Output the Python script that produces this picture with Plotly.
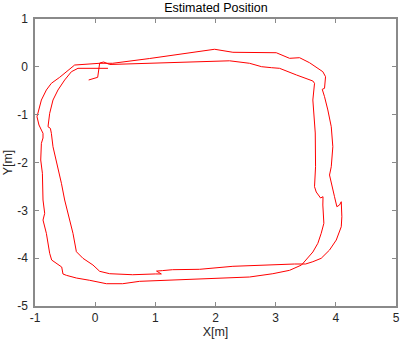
import plotly.graph_objects as go

# Estimated trajectory (two laps), data coordinates in metres
pos_x = [-0.108, 0.042, 0.075, 0.141, 0.241, 0.905, 1.786, 2.234, 2.566, 2.766, 2.932, 3.065, 3.347, 3.618, 3.646,
         3.618, 3.658, 3.663, 3.646, 3.674, 3.746, 3.787, 3.784, 3.801, 3.757, 3.701, 3.618, 3.508, 3.430,
         3.231, 2.953, 2.566, 2.179, 1.736, 1.183, 0.739, 0.457, 0.186, -0.091, -0.312, -0.478,
         -0.535, -0.556, -0.640, -0.723, -0.756, -0.784, -0.811, -0.867, -0.839, -0.867,
         -0.867, -0.877, -0.905, -0.894, -0.867, -0.867, -0.894, -0.934, -0.967, -0.950, -0.894, -0.811, -0.728,
         -0.590, -0.452, -0.341, 0.075, 0.291,
         0.905, 1.736, 1.985, 2.289, 3.010, 3.231, 3.397, 3.563, 3.784, 3.829, 3.812, 3.774, 3.812, 3.867,
         3.924, 3.950, 3.924, 3.895, 3.945, 3.978, 4.017, 4.061, 4.090, 4.100, 4.090, 4.007, 3.895, 3.757,
         3.618, 3.497, 3.314, 2.844, 2.289, 1.736, 1.287, 1.12, 1.02, 1.10, 1.00, 0.623, 0.407, 0.241, 0.075,
         -0.037, -0.203, -0.312, -0.369, -0.452, -0.507, -0.561, -0.645, -0.701, -0.728, -0.744, -0.784,
         -0.756, -0.701, -0.618, -0.507, -0.395, -0.286, 0.213]
pos_y = [-0.275, -0.219, 0.080, 0.101, 0.049, 0.070, 0.107, 0.126, 0.074, 0.003, -0.018, -0.031, -0.171, -0.296, -0.344,
         -0.694, -1.383, -2.088, -2.506, -2.617, -2.742, -2.715, -2.889, -3.271, -3.480, -3.690, -3.871, -4.039, -4.143,
         -4.254, -4.325, -4.394, -4.415, -4.442, -4.463, -4.484, -4.534, -4.534, -4.463, -4.415, -4.359,
         -4.331, -4.185, -4.108, -4.039, -3.899, -3.690, -3.481, -3.203, -3.063, -2.784,
         -2.575, -2.226, -1.948, -1.599, -1.488, -1.390, -1.321, -1.216, -1.043, -0.966, -0.694, -0.484, -0.344,
         -0.219, -0.066, 0.038, 0.074, 0.074,
         0.174, 0.331, 0.367, 0.304, 0.295, 0.178, 0.191, 0.086, -0.102, -0.206, -0.449, -0.470, -0.624, -0.902,
         -1.252, -1.670, -2.088, -2.262, -2.506, -2.715, -2.924, -2.889, -2.820, -3.134, -3.343, -3.621, -3.830, -4.003,
         -4.074, -4.122, -4.122, -4.137, -4.170, -4.233, -4.241, -4.26, -4.27, -4.33, -4.33, -4.346, -4.331, -4.325, -4.275,
         -4.143, -4.003, -3.865, -3.481, -3.063, -2.784, -2.435, -1.948, -1.670, -1.390, -1.286, -1.252,
         -0.972, -0.694, -0.484, -0.275, -0.102, -0.031, -0.031]

x_ticks = [-1, 0, 1, 2, 3, 4, 5]
y_ticks = [-5, -4, -3, -2, -1, 0, 1]

FONT = "Liberation Sans, Arial, sans-serif"
AXCOL = "#8a8a8a"
TXT = "#262626"

fig = go.Figure(go.Scatter(x=pos_x, y=pos_y, mode="lines",
                           line=dict(color="#ff0000", width=1), hoverinfo="skip"))

axis_common = dict(showgrid=False, zeroline=False, showline=True, linecolor=AXCOL, linewidth=1.5,
                   mirror="allticks", ticks="inside", ticklen=4, tickcolor=AXCOL, tickwidth=1,
                   automargin=False,
                   tickfont=dict(family=FONT, size=12, color=TXT))

fig.update_layout(
    width=400, height=344,
    margin=dict(l=35, r=4, t=19, b=38),
    paper_bgcolor="white", plot_bgcolor="white",
    showlegend=False,
    title=dict(text="Estimated Position", x=0.54, xanchor="center", y=0.99, yanchor="top",
               font=dict(family=FONT, size=12.5, color="black"), automargin=False),
    xaxis=dict(range=[-1, 5], tickvals=x_ticks, ticktext=[str(v) for v in x_ticks],
               title=dict(text="X[m]", font=dict(family=FONT, size=12.5, color=TXT), standoff=2),
               **axis_common),
    yaxis=dict(range=[-5, 1], tickvals=y_ticks, ticktext=[str(v) for v in y_ticks],
               ticklabelstandoff=3,
               title=dict(text="Y[m]", font=dict(family=FONT, size=12.5, color=TXT), standoff=2),
               **axis_common),
)

fig.write_html("out.html", config={"displayModeBar": False},
               post_script="document.body.style.margin='0';document.body.style.padding='0';")
